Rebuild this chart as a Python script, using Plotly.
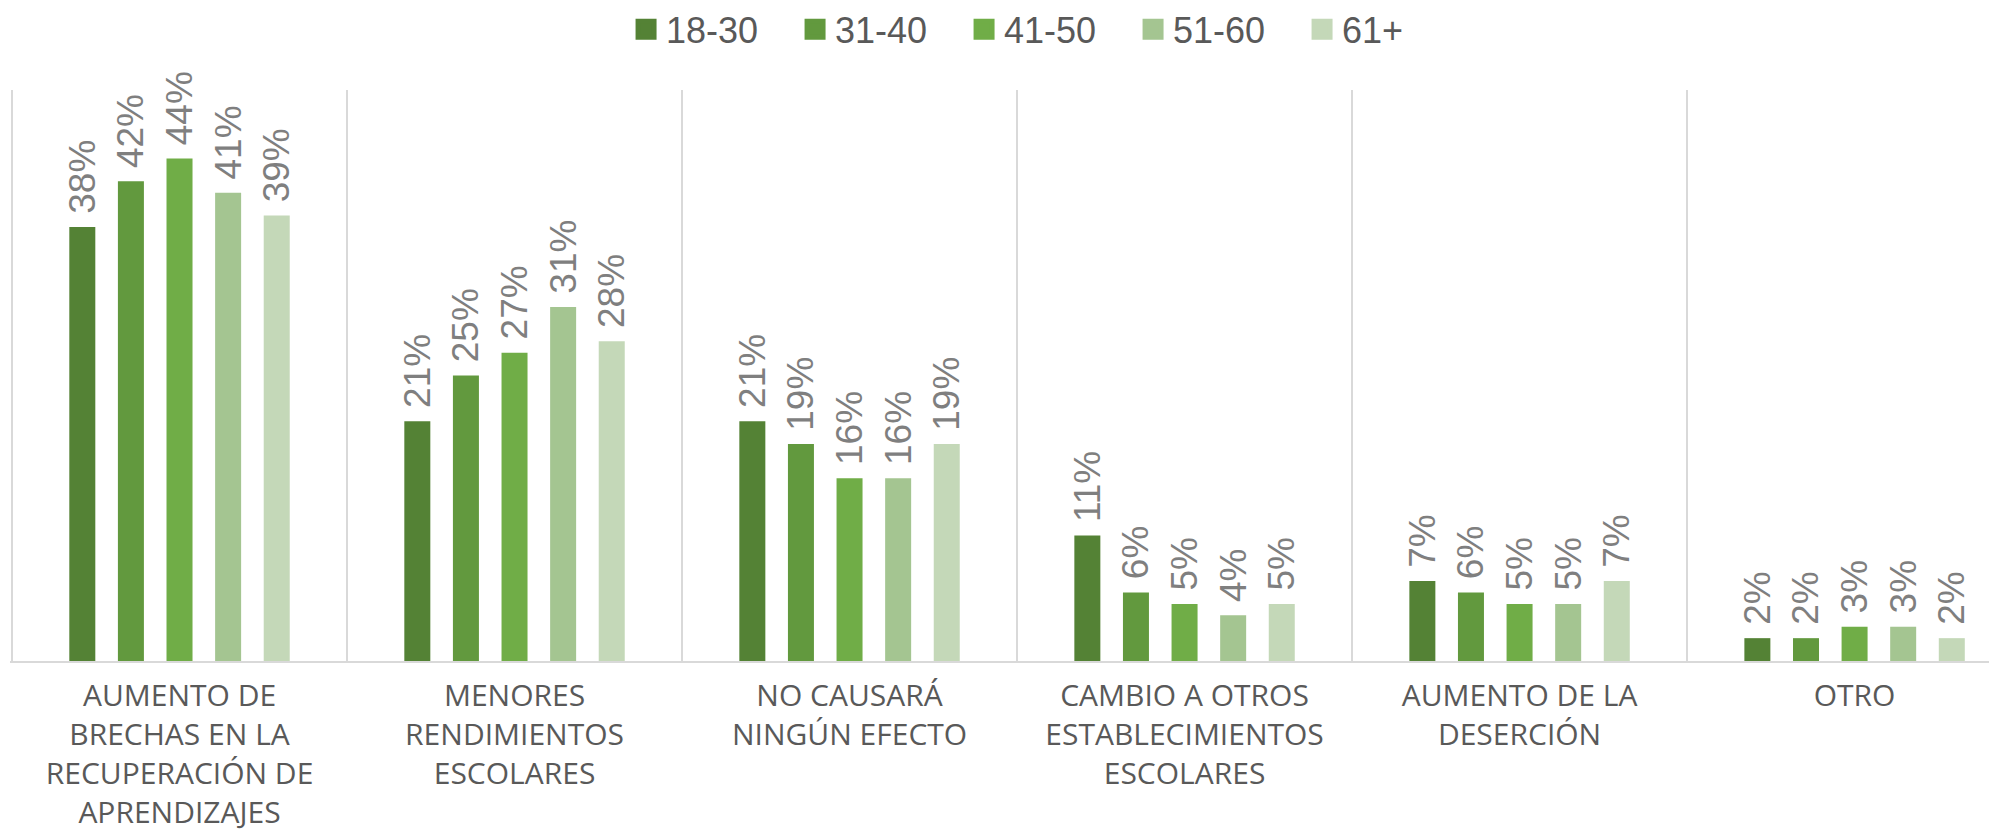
import plotly.graph_objects as go

categories = [
    "AUMENTO DE<br>BRECHAS EN LA<br>RECUPERACIÓN DE<br>APRENDIZAJES",
    "MENORES<br>RENDIMIENTOS<br>ESCOLARES",
    "NO CAUSARÁ<br>NINGÚN EFECTO",
    "CAMBIO A OTROS<br>ESTABLECIMIENTOS<br>ESCOLARES",
    "AUMENTO DE LA<br>DESERCIÓN",
    "OTRO",
]
series_names = ["18-30", "31-40", "41-50", "51-60", "61+"]
v_18_30 = [38, 21, 21, 11, 7, 2]
v_31_40 = [42, 25, 19, 6, 6, 2]
v_41_50 = [44, 27, 16, 5, 5, 3]
v_51_60 = [41, 31, 16, 4, 5, 3]
v_61 = [39, 28, 19, 5, 7, 2]
series_values = [v_18_30, v_31_40, v_41_50, v_51_60, v_61]
colors = ["#548235", "#62993E", "#70AD47", "#A4C591", "#C4D8B8"]

LABEL_FONT = "Liberation Sans, Arial, sans-serif"

fig = go.Figure()
for name, vals, col in zip(series_names, series_values, colors):
    fig.add_trace(go.Bar(
        x=categories, y=vals, name=name, showlegend=False,
        marker=dict(color=col, line=dict(width=0)),
        text=["\u00a0" + f"{v}%" for v in vals],
        textposition="outside", textangle=-90, constraintext="none",
        cliponaxis=False,
        textfont=dict(family=LABEL_FONT, size=37, color="#7F7F7F"),
        hoverinfo="skip",
    ))
# legend entries with large square swatches
for name, col in zip(series_names, colors):
    fig.add_trace(go.Scatter(
        x=[None], y=[None], mode="markers", name=name,
        marker=dict(symbol="square", size=16, color=col, line=dict(color=col, width=5)),
        showlegend=True,
    ))

fig.update_layout(
    width=1997, height=831,
    margin=dict(l=2, r=0, t=82, b=178, autoexpand=False),
    paper_bgcolor="white", plot_bgcolor="white",
    barmode="group", bargap=0.2746, bargroupgap=0.465,
    legend=dict(
        orientation="h", x=0.3088, xanchor="left", y=1.106, yanchor="middle",
        font=dict(family=LABEL_FONT, size=36, color="#595959"),
        entrywidth=124, entrywidthmode="pixels", itemsizing="trace",
        bgcolor="rgba(0,0,0,0)",
    ),
    xaxis=dict(
        type="category", range=[-0.506, 5.449],
        tickson="boundaries", showgrid=True, gridcolor="#D9D9D9", gridwidth=1.5,
        showline=True, linecolor="#D9D9D9", linewidth=2,
        ticks="", ticklabelstandoff=7,
        tickfont=dict(family="Open Sans, sans-serif", size=30, color="#595959"),
    ),
    yaxis=dict(
        range=[0, 50], showgrid=False, zeroline=False, showticklabels=False,
        showline=False,
    ),
)

fig.write_html("out.html")
